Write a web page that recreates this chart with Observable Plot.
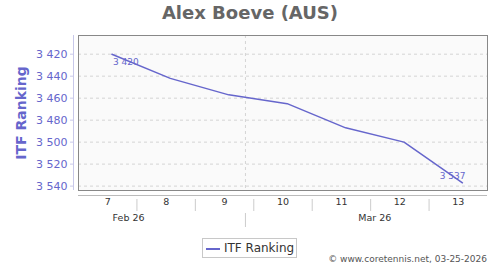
<!DOCTYPE html>
<html><head><meta charset="utf-8">
<script src="https://cdn.jsdelivr.net/npm/d3@7"></script>
<script src="https://cdn.jsdelivr.net/npm/@observablehq/plot@0.6"></script>
<style>
body{margin:0;background:#fff;font-family:"DejaVu Sans",sans-serif;}
#wrap{position:relative;width:500px;height:270px;overflow:hidden;}
#chart{position:absolute;left:0;top:0;}
#title{position:absolute;left:0;top:2px;width:500px;text-align:center;font-weight:bold;font-size:18px;color:#666;}
#ylabel{position:absolute;left:21px;top:113px;transform:translate(-50%,-50%) rotate(-90deg);font-size:14px;font-weight:bold;color:#6666cc;white-space:nowrap;}
#legend{position:absolute;left:202px;top:238px;width:93px;height:18px;border:1px solid #c8c8c8;background:#fff;font-size:12px;color:#333;line-height:18px;white-space:nowrap;}
#legend span.sw{display:inline-block;width:14px;height:0;border-top:2px solid #6666cc;vertical-align:middle;margin:0 4px 0 3px;}
#credit{position:absolute;right:13px;top:254px;font-size:9px;color:#555;}
</style></head>
<body>
<div id="wrap">
  <div id="chart"></div>
  <div id="title">Alex Boeve (AUS)</div>
  <div id="ylabel">ITF Ranking</div>
  <div id="legend"><span class="sw"></span>ITF Ranking</div>
  <div id="credit">© www.coretennis.net, 03-25-2026</div>
</div>
<script>
const dates = ["2026-02-13","2026-02-20","2026-02-27","2026-03-06","2026-03-13","2026-03-20","2026-03-27"];
const ranking = [3420, 3442, 3457, 3465, 3487, 3500, 3537];
const weeks = [7, 8, 9, 10, 11, 12, 13];
const weekStarts = ["2026-02-09","2026-02-16","2026-02-23","2026-03-02","2026-03-09","2026-03-16","2026-03-23","2026-03-30"];
const months = ["Feb 26", "Mar 26"];
const monthMids = ["2026-02-15","2026-03-16T12:00"];
const monthBreak = ["2026-03-01"];
const yTicks = [3420, 3440, 3460, 3480, 3500, 3520, 3540];
const yDomain = [3403, 3544];

const P = s => new Date(s + (s.includes("T") ? "Z" : "T00:00Z"));
const data = dates.map((d, i) => ({date: P(d), rank: ranking[i]}));
const ws = weekStarts.map(P);
const weekMid = weeks.map((w, i) => ({x: new Date((+ws[i] + +ws[i+1]) / 2), w}));
const xDomain = [ws[0], ws[ws.length - 1]];
const fmt = d => String(d).replace(/\B(?=(\d{3})+$)/g, " ");
const col = "#6666cc";

const chart = Plot.plot({
  width: 500, height: 270,
  marginTop: 35, marginBottom: 80, marginLeft: 78, marginRight: 13,
  style: {fontFamily: "DejaVu Sans, sans-serif", background: "transparent"},
  x: {type: "utc", domain: xDomain, axis: null},
  y: {domain: yDomain, reverse: true, axis: null},
  marks: [
    Plot.frame({fill: "#fafafa", stroke: null}),
    Plot.gridY(yTicks, {stroke: "#d4d4d4", strokeOpacity: 1, strokeDasharray: "3,3"}),
    Plot.ruleX(monthBreak.map(P), {stroke: "#d4d4d4", strokeDasharray: "3,3"}),
    Plot.frame({stroke: "#888"}),
    Plot.line(data, {x: "date", y: "rank", stroke: col, strokeWidth: 1.5}),
    Plot.text([data[0]], {x: "date", y: "rank", text: d => fmt(d.rank), textAnchor: "start", lineAnchor: "top", dx: 1, dy: 4, fontSize: 9, fill: col}),
    Plot.text([data[data.length - 1]], {x: "date", y: "rank", text: d => fmt(d.rank), textAnchor: "end", lineAnchor: "bottom", dx: 3, dy: -4, fontSize: 9, fill: col}),
    Plot.ruleX([xDomain[0]], {dx: -5, stroke: "#c8c8ea"}),
    Plot.axisY(yTicks, {tickSize: 3, dx: -5, tickPadding: 3, tickFormat: fmt, fill: col, stroke: "#c8c8ea", fontSize: 11, label: null}),
    Plot.ruleY([yDomain[1]], {dy: 5, stroke: "#bbb"}),
    Plot.axisX(ws.slice(1, -1), {tickSize: 12, dy: 9, tickFormat: () => "", stroke: "#ccc", label: null}),
    Plot.text(weekMid, {x: "x", text: d => String(d.w), frameAnchor: "bottom", dy: 14.5, fontSize: 9.5, fill: "#333"}),
    Plot.axisX(monthBreak.map(P), {tickSize: 14, dy: 23, tickFormat: () => "", stroke: "#ccc", label: null}),
    Plot.text(months.map((m, i) => ({m, x: P(monthMids[i])})), {x: "x", text: "m", frameAnchor: "bottom", dy: 30.5, fontSize: 9.5, fill: "#333"})
  ]
});
document.getElementById("chart").appendChild(chart);
</script>
</body></html>
